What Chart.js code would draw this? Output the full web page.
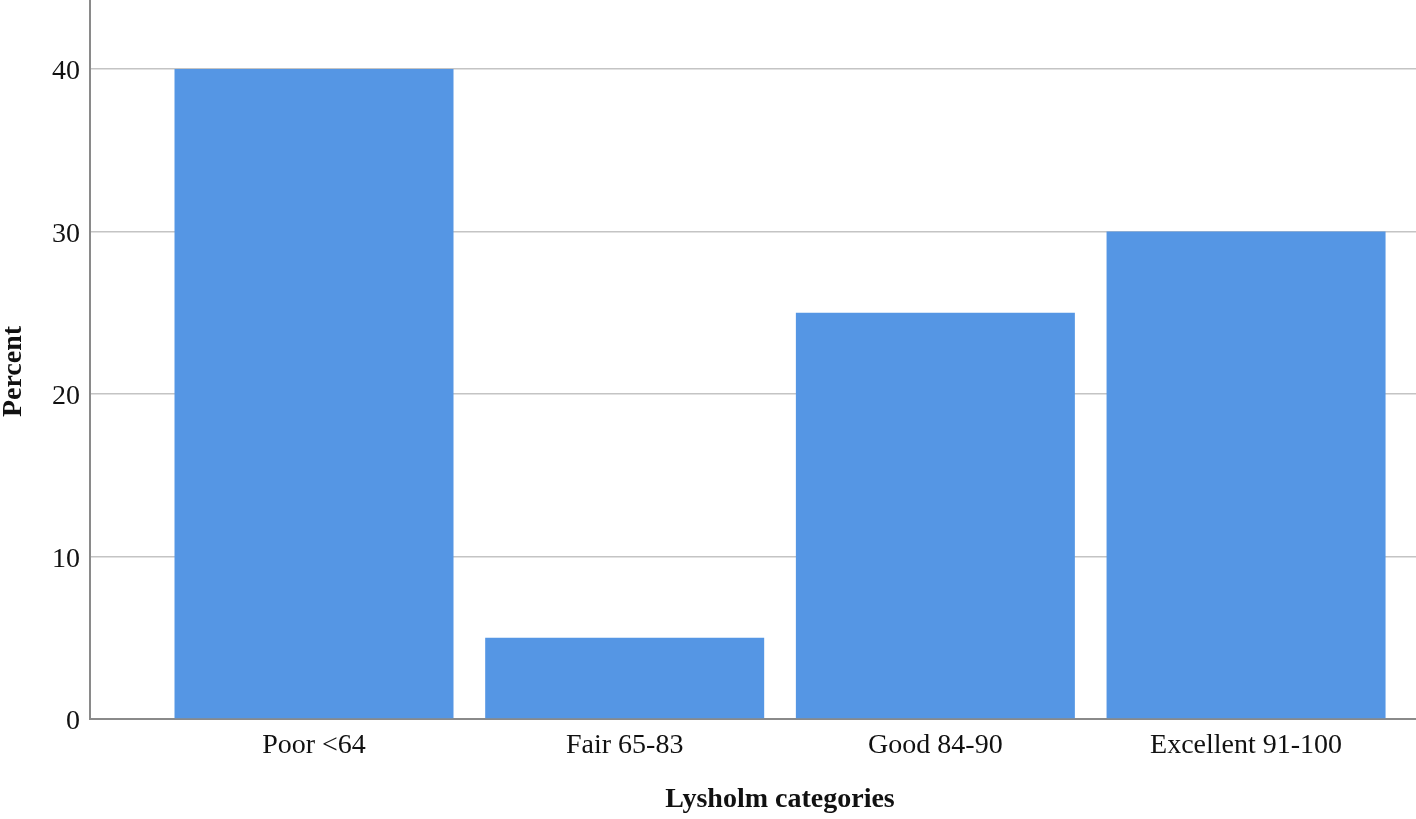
<!DOCTYPE html>
<html>
<head>
<meta charset="utf-8">
<script src="https://cdn.jsdelivr.net/npm/chart.js@4/dist/chart.umd.min.js"></script>
<style>
  html, body { margin: 0; padding: 0; background: #fff; }
  #wrap { width: 1416px; height: 819px; }
</style>
</head>
<body>
<div id="wrap"><canvas id="barCanvas" width="1416" height="819"></canvas></div>
<script>
// Lysholm score categories and the percent of patients in each
const categories = ['Poor <64', 'Fair 65-83', 'Good 84-90', 'Excellent 91-100']
const percents = [40, 5, 25, 30]
const yTicks = [0, 10, 20, 30, 40]
const xTitle = 'Lysholm categories'
const yTitle = 'Percent'

const points = categories.map((c, i) => ({ x: i, y: percents[i] }))

const serif = "'Liberation Serif', 'Times New Roman', serif"

// axis titles: x one centred under the bars, y one a bit below the middle
const axisTitles = {
  id: 'axisTitles',
  afterDraw(chart) {
    const ctx = chart.ctx
    const xs = chart.scales.x
    const area = chart.chartArea
    ctx.save()
    ctx.fillStyle = '#111'
    ctx.font = 'bold 28px ' + serif
    ctx.textAlign = 'center'
    ctx.textBaseline = 'middle'
    ctx.fillText(xTitle, xs.getPixelForValue((categories.length - 1) / 2), 800)
    ctx.translate(14, (area.top + area.bottom) / 2 + 12)
    ctx.rotate(-Math.PI / 2)
    ctx.fillText(yTitle, 0, 0)
    ctx.restore()
  }
}

const config = {
  type: 'bar',
  data: {
    datasets: [{
      label: 'Percent',
      data: points,
      backgroundColor: '#5596e4',
      borderWidth: 0,
      barPercentage: 0.898,
      categoryPercentage: 1
    }]
  },
  options: {
    responsive: false,
    animation: false,
    layout: { padding: 0 },
    plugins: {
      legend: { display: false },
      tooltip: { enabled: false }
    },
    scales: {
      x: {
        type: 'linear',
        offset: false,
        min: -0.721,
        max: 3.547,
        afterBuildTicks: (scale) => {
          scale.ticks = categories.map((c, i) => ({ value: i }))
        },
        afterFit: (scale) => {
          scale.height = 100
          scale.paddingLeft = 0
          scale.paddingRight = 0
        },
        ticks: {
          callback: (v) => categories[v],
          color: '#111',
          font: { family: serif, size: 28 },
          padding: 10,
          maxRotation: 0,
          autoSkip: false
        },
        grid: { display: false, drawTicks: false },
        border: { display: true, color: '#8a8a8a', width: 2 }
      },
      y: {
        min: 0,
        max: 44.25,
        afterBuildTicks: (scale) => {
          scale.ticks = yTicks.map(v => ({ value: v }))
        },
        afterFit: (scale) => {
          scale.width = 90
          scale.paddingTop = 0
          scale.paddingBottom = 0
        },
        ticks: {
          color: '#111',
          font: { family: serif, size: 28 },
          padding: 10,
          labelOffset: 3
        },
        grid: { color: '#c4c4c4', lineWidth: 1.5, drawTicks: false },
        border: { display: true, color: '#8a8a8a', width: 2 }
      }
    }
  },
  plugins: [axisTitles]
}

const chart = new Chart(document.getElementById('barCanvas'), config)
</script>
</body>
</html>
